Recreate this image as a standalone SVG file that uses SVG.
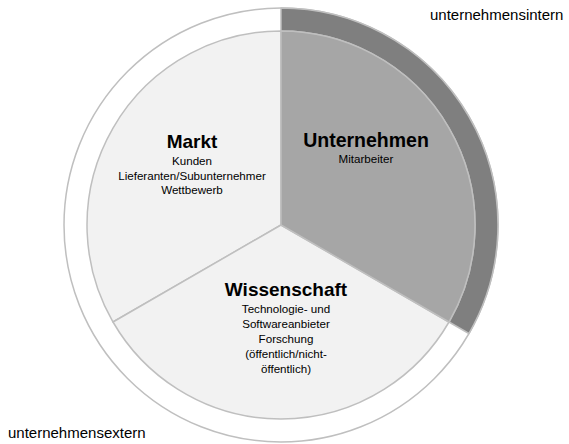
<svg xmlns="http://www.w3.org/2000/svg" width="569" height="444" viewBox="0 0 569 444">
<style>
.edge{stroke:#bfbfbf;stroke-width:1.5;stroke-linejoin:round}
.t{font-family:"Liberation Sans",Arial,sans-serif;fill:#000;text-anchor:middle}
.h{font-weight:bold;font-size:19px}
.s{font-size:11.6px}
.lab{font-family:"Liberation Sans",Arial,sans-serif;font-size:15px;fill:#000}
</style>
<rect width="569" height="444" fill="#fff"/>
<g id="outer">
<circle cx="281" cy="225" r="217" fill="#fff" class="edge"/>
</g>
<g id="ring-intern">
<path d="M281,8 A217,217 0 0 1 468.9,333.5 L449,322 A194,194 0 0 0 281,31 Z" fill="#7f7f7f" class="edge"/>
</g>
<g id="markt">
<path d="M281,225 L113,322 A194,194 0 0 1 281,31 Z" fill="#f2f2f2" class="edge"/>
<text class="t h" x="192" y="148">Markt</text>
<text class="t s" x="192" y="165">Kunden</text>
<text class="t s" x="192" y="179.5">Lieferanten/Subunternehmer</text>
<text class="t s" x="192" y="194">Wettbewerb</text>
</g>
<g id="wissenschaft">
<path d="M281,225 L449,322 A194,194 0 0 1 113,322 Z" fill="#f2f2f2" class="edge"/>
<text class="t h" x="286" y="296">Wissenschaft</text>
<text class="t s" x="286" y="313">Technologie- und</text>
<text class="t s" x="286" y="328">Softwareanbieter</text>
<text class="t s" x="286" y="343">Forschung</text>
<text class="t s" x="286" y="358">(öffentlich/nicht-</text>
<text class="t s" x="286" y="373">öffentlich)</text>
</g>
<g id="unternehmen">
<path d="M281,225 L281,31 A194,194 0 0 1 449,322 Z" fill="#a6a6a6" class="edge"/>
<text class="t h" x="366" y="147" style="font-size:19.5px">Unternehmen</text>
<text class="t s" x="366" y="163">Mitarbeiter</text>
</g>
<g id="labels">
<text class="lab" x="430" y="20">unternehmensintern</text>
<text class="lab" x="8" y="438">unternehmensextern</text>
</g>
</svg>
